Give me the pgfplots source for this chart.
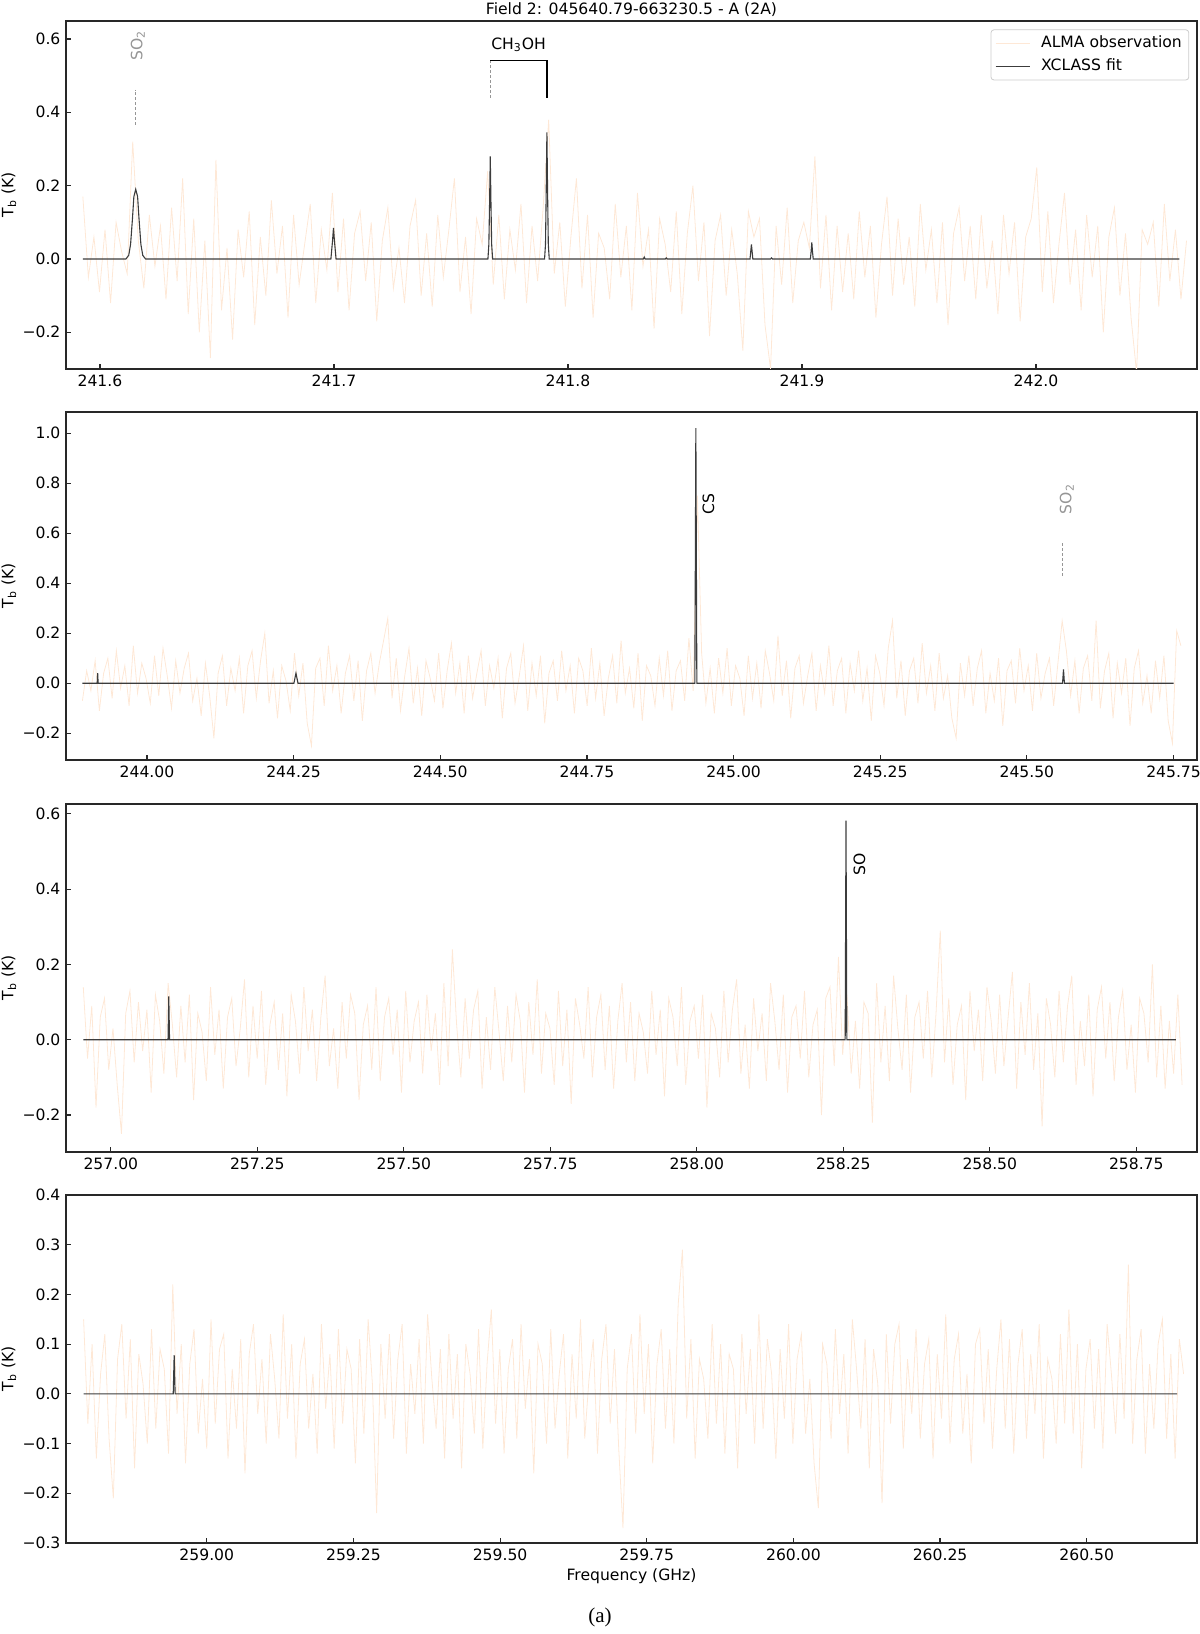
\documentclass[border=0pt]{standalone}
\usepackage{fontspec}
\setmainfont{DejaVu Sans}
\newfontfamily\capfont{Liberation Serif}
\usepackage{pgfplots}
\usepackage{pgfplotstable}
\pgfplotsset{compat=1.18}

\definecolor{obs}{RGB}{254,232,214}
\definecolor{fitc}{RGB}{60,60,60}
\definecolor{frame}{RGB}{40,40,40}
\definecolor{lbl}{RGB}{150,150,150}
\newcommand\fs{\fontsize{7.8}{9.4}\selectfont}

% observed spectra, one value per channel (channels evenly spaced)
\pgfplotstableread[row sep=\\]{T\\
0.17\\ -0.05\\ 0.06\\ -0.09\\ 0.08\\ -0.12\\ 0.10\\ 0.02\\ -0.04\\ 0.32\\ 0.05\\ -0.08\\ 0.12\\ -0.02\\ 0.09\\ -0.11\\ 0.14\\ -0.06\\ 0.22\\ -0.15\\
0.11\\ -0.20\\ 0.05\\ -0.27\\ 0.27\\ -0.14\\ 0.03\\ -0.22\\ 0.08\\ -0.05\\ 0.13\\ -0.18\\ 0.06\\ -0.10\\ 0.16\\ -0.04\\ 0.09\\ -0.16\\ 0.12\\ -0.07\\
0.04\\ 0.15\\ -0.12\\ 0.08\\ -0.03\\ 0.18\\ -0.09\\ 0.11\\ -0.14\\ 0.07\\ 0.13\\ -0.06\\ 0.10\\ -0.17\\ 0.05\\ 0.14\\ -0.08\\ 0.03\\ -0.12\\ 0.09\\
0.16\\ -0.10\\ 0.07\\ -0.13\\ 0.12\\ -0.05\\ 0.08\\ 0.22\\ -0.09\\ 0.06\\ -0.15\\ 0.11\\ 0.04\\ 0.24\\ -0.07\\ 0.12\\ -0.11\\ 0.08\\ -0.03\\ 0.15\\
-0.12\\ 0.09\\ -0.06\\ 0.14\\ 0.38\\ -0.04\\ 0.10\\ -0.13\\ 0.06\\ 0.22\\ -0.08\\ 0.12\\ -0.16\\ 0.07\\ 0.03\\ -0.11\\ 0.15\\ -0.05\\ 0.09\\ -0.14\\
0.18\\ -0.02\\ 0.08\\ -0.19\\ 0.11\\ 0.04\\ -0.09\\ 0.13\\ -0.15\\ 0.07\\ 0.20\\ -0.06\\ 0.10\\ -0.21\\ 0.05\\ 0.12\\ -0.10\\ 0.08\\ -0.04\\ -0.25\\
0.13\\ 0.06\\ 0.11\\ -0.18\\ -0.30\\ 0.09\\ -0.07\\ 0.14\\ -0.12\\ 0.05\\ 0.10\\ 0.03\\ 0.28\\ -0.08\\ 0.12\\ -0.14\\ 0.09\\ -0.09\\ 0.07\\ -0.11\\
0.13\\ -0.05\\ 0.09\\ -0.16\\ 0.04\\ 0.17\\ -0.10\\ 0.11\\ -0.07\\ 0.06\\ -0.13\\ 0.15\\ -0.03\\ 0.08\\ -0.12\\ 0.10\\ -0.18\\ 0.07\\ 0.14\\ -0.06\\
0.09\\ -0.11\\ 0.12\\ -0.08\\ 0.05\\ -0.15\\ 0.12\\ -0.04\\ 0.10\\ -0.17\\ 0.06\\ 0.11\\ 0.25\\ -0.09\\ 0.13\\ -0.12\\ 0.04\\ 0.18\\ -0.07\\ 0.08\\
-0.14\\ 0.12\\ -0.05\\ 0.09\\ -0.20\\ 0.06\\ 0.14\\ -0.10\\ 0.07\\ -0.16\\ -0.31\\ 0.08\\ 0.04\\ 0.10\\ -0.13\\ 0.15\\ -0.06\\ 0.08\\ -0.11\\ 0.05\\
}\obsA

\pgfplotstableread[row sep=\\]{T\\
-0.07\\ 0.05\\ -0.03\\ 0.09\\ -0.11\\ 0.04\\ 0.10\\ -0.06\\ 0.13\\ -0.02\\ 0.07\\ -0.09\\ 0.15\\ -0.04\\ 0.08\\ 0.02\\ -0.08\\ 0.11\\ -0.05\\ 0.14\\
0.03\\ -0.10\\ 0.09\\ -0.04\\ 0.06\\ 0.12\\ -0.07\\ 0.02\\ -0.13\\ 0.08\\ -0.05\\ -0.22\\ 0.04\\ 0.11\\ -0.09\\ 0.06\\ -0.03\\ 0.10\\ -0.12\\ 0.07\\
0.13\\ -0.06\\ 0.09\\ 0.20\\ -0.08\\ 0.05\\ -0.14\\ 0.07\\ 0.01\\ -0.11\\ 0.12\\ -0.05\\ 0.08\\ -0.16\\ -0.25\\ 0.06\\ 0.10\\ -0.09\\ 0.15\\ -0.03\\
0.07\\ -0.12\\ 0.04\\ 0.11\\ -0.07\\ 0.09\\ -0.15\\ 0.05\\ 0.12\\ -0.04\\ 0.08\\ 0.17\\ 0.26\\ -0.06\\ 0.10\\ -0.11\\ 0.03\\ 0.14\\ -0.08\\ 0.06\\
-0.13\\ 0.09\\ 0.02\\ -0.07\\ 0.12\\ -0.10\\ 0.05\\ 0.16\\ -0.04\\ 0.08\\ -0.12\\ 0.11\\ -0.06\\ 0.04\\ 0.13\\ -0.09\\ 0.07\\ -0.02\\ 0.10\\ -0.14\\
0.06\\ 0.12\\ -0.08\\ 0.03\\ 0.15\\ -0.11\\ 0.08\\ -0.05\\ 0.11\\ -0.16\\ 0.04\\ 0.09\\ -0.07\\ 0.13\\ -0.03\\ 0.07\\ -0.12\\ 0.10\\ 0.05\\ -0.09\\
0.14\\ -0.06\\ 0.08\\ -0.13\\ 0.02\\ 0.11\\ -0.08\\ 0.17\\ -0.04\\ 0.06\\ -0.10\\ 0.12\\ -0.15\\ 0.07\\ 0.03\\ -0.09\\ 0.10\\ -0.05\\ 0.13\\ -0.11\\
0.05\\ 0.09\\ -0.07\\ 0.18\\ -0.03\\ 0.75\\ 0.12\\ -0.08\\ 0.06\\ -0.12\\ 0.10\\ -0.04\\ 0.14\\ -0.09\\ 0.07\\ 0.02\\ -0.13\\ 0.11\\ -0.06\\ 0.08\\
-0.10\\ 0.13\\ 0.04\\ -0.07\\ 0.19\\ -0.05\\ 0.09\\ -0.14\\ 0.06\\ 0.11\\ -0.08\\ 0.03\\ 0.12\\ -0.11\\ 0.07\\ -0.04\\ 0.15\\ -0.09\\ 0.05\\ 0.10\\
-0.12\\ 0.08\\ -0.03\\ 0.13\\ -0.07\\ 0.06\\ -0.15\\ 0.11\\ 0.04\\ -0.09\\ 0.14\\ 0.25\\ -0.06\\ 0.09\\ -0.13\\ 0.05\\ 0.10\\ -0.08\\ 0.16\\ -0.04\\
0.07\\ -0.11\\ 0.12\\ -0.06\\ 0.03\\ -0.14\\ -0.22\\ 0.08\\ -0.05\\ 0.11\\ -0.09\\ 0.06\\ 0.13\\ -0.12\\ 0.04\\ -0.07\\ 0.10\\ -0.17\\ 0.05\\ 0.09\\
-0.08\\ 0.14\\ -0.03\\ 0.07\\ -0.11\\ 0.12\\ -0.06\\ 0.04\\ 0.10\\ -0.09\\ 0.08\\ 0.25\\ 0.13\\ -0.05\\ 0.09\\ -0.12\\ 0.06\\ 0.11\\ -0.07\\ 0.25\\
-0.10\\ 0.05\\ 0.12\\ -0.14\\ 0.08\\ -0.04\\ 0.10\\ -0.17\\ 0.06\\ 0.13\\ -0.08\\ 0.03\\ -0.12\\ 0.09\\ -0.06\\ 0.11\\ -0.15\\ -0.24\\ 0.21\\ 0.15\\
}\obsB

\pgfplotstableread[row sep=\\]{T\\
0.14\\ -0.05\\ 0.09\\ -0.18\\ 0.06\\ 0.11\\ -0.08\\ 0.03\\ -0.12\\ -0.25\\ 0.07\\ 0.13\\ -0.06\\ 0.10\\ -0.03\\ 0.08\\ -0.14\\ 0.12\\ 0.05\\ -0.09\\
0.15\\ 0.04\\ -0.10\\ 0.09\\ -0.06\\ 0.12\\ -0.16\\ 0.07\\ 0.02\\ -0.11\\ 0.14\\ -0.04\\ 0.08\\ -0.13\\ 0.06\\ 0.11\\ -0.07\\ 0.03\\ 0.16\\ -0.10\\
0.09\\ -0.05\\ 0.13\\ -0.12\\ 0.04\\ 0.10\\ -0.08\\ 0.07\\ -0.15\\ 0.12\\ 0.05\\ -0.09\\ 0.14\\ -0.03\\ 0.08\\ -0.11\\ 0.06\\ 0.17\\ -0.07\\ 0.03\\
-0.13\\ 0.10\\ -0.05\\ 0.12\\ 0.07\\ -0.16\\ 0.04\\ 0.09\\ -0.08\\ 0.14\\ -0.11\\ 0.06\\ 0.11\\ -0.04\\ 0.08\\ -0.14\\ 0.13\\ -0.06\\ 0.05\\ 0.10\\
-0.09\\ 0.12\\ -0.03\\ 0.07\\ -0.12\\ 0.15\\ -0.07\\ 0.24\\ 0.04\\ -0.10\\ 0.11\\ -0.05\\ 0.08\\ 0.13\\ -0.13\\ 0.06\\ -0.08\\ 0.14\\ 0.02\\ -0.11\\
0.09\\ -0.06\\ 0.12\\ 0.05\\ -0.14\\ 0.10\\ -0.04\\ 0.16\\ -0.09\\ 0.07\\ 0.03\\ -0.12\\ 0.13\\ -0.07\\ 0.08\\ -0.17\\ 0.11\\ 0.04\\ -0.05\\ 0.14\\
-0.10\\ 0.06\\ 0.12\\ -0.08\\ 0.09\\ -0.13\\ 0.05\\ 0.15\\ -0.06\\ 0.10\\ -0.11\\ 0.07\\ 0.02\\ -0.09\\ 0.13\\ -0.04\\ 0.08\\ -0.15\\ 0.11\\ 0.06\\
-0.07\\ 0.14\\ -0.12\\ 0.05\\ 0.09\\ -0.05\\ 0.12\\ -0.18\\ 0.07\\ 0.03\\ -0.10\\ 0.13\\ -0.06\\ 0.08\\ 0.16\\ -0.09\\ 0.04\\ -0.13\\ 0.11\\ -0.03\\
0.07\\ -0.11\\ 0.15\\ 0.05\\ -0.08\\ 0.12\\ -0.14\\ 0.06\\ 0.09\\ -0.05\\ 0.13\\ -0.10\\ 0.04\\ 0.08\\ -0.20\\ 0.11\\ 0.14\\ -0.07\\ 0.22\\ -0.04\\
0.12\\ -0.09\\ 0.05\\ -0.13\\ 0.10\\ 0.07\\ -0.22\\ 0.15\\ -0.06\\ 0.09\\ -0.11\\ 0.17\\ 0.03\\ -0.08\\ 0.12\\ -0.14\\ 0.06\\ 0.10\\ -0.05\\ 0.13\\
-0.10\\ 0.07\\ 0.29\\ -0.06\\ 0.11\\ -0.12\\ 0.04\\ 0.09\\ -0.16\\ 0.13\\ -0.03\\ 0.08\\ -0.11\\ 0.14\\ 0.05\\ -0.09\\ 0.12\\ -0.07\\ 0.06\\ 0.18\\
-0.13\\ 0.10\\ -0.04\\ 0.15\\ -0.08\\ 0.07\\ -0.23\\ 0.11\\ 0.04\\ -0.10\\ 0.13\\ -0.06\\ 0.09\\ 0.17\\ -0.12\\ 0.05\\ -0.07\\ 0.12\\ -0.15\\ 0.08\\
0.14\\ -0.05\\ 0.10\\ -0.11\\ 0.06\\ 0.13\\ -0.08\\ 0.04\\ -0.14\\ 0.11\\ 0.07\\ -0.06\\ 0.20\\ -0.10\\ 0.09\\ -0.13\\ 0.05\\ -0.09\\ 0.12\\ -0.12\\
}\obsC

\pgfplotstableread[row sep=\\]{T\\
0.15\\ -0.06\\ 0.10\\ -0.13\\ 0.04\\ 0.12\\ -0.09\\ -0.21\\ 0.07\\ 0.14\\ -0.05\\ 0.11\\ -0.15\\ 0.08\\ 0.02\\ -0.10\\ 0.13\\ -0.07\\ 0.09\\ 0.05\\
-0.12\\ 0.22\\ -0.04\\ 0.10\\ -0.14\\ 0.06\\ 0.13\\ -0.08\\ 0.03\\ -0.11\\ 0.15\\ -0.06\\ 0.09\\ 0.12\\ -0.13\\ 0.05\\ -0.07\\ 0.11\\ -0.16\\ 0.08\\
0.14\\ -0.04\\ 0.07\\ -0.10\\ 0.12\\ 0.03\\ -0.09\\ 0.16\\ -0.05\\ 0.10\\ -0.13\\ 0.06\\ 0.11\\ -0.07\\ 0.04\\ -0.12\\ 0.14\\ -0.03\\ 0.08\\ -0.11\\
0.13\\ -0.06\\ 0.09\\ 0.05\\ -0.14\\ 0.11\\ -0.08\\ 0.15\\ 0.02\\ -0.24\\ 0.10\\ -0.05\\ 0.12\\ -0.09\\ 0.07\\ 0.14\\ -0.12\\ 0.06\\ -0.04\\ 0.11\\
-0.10\\ 0.16\\ 0.03\\ -0.07\\ 0.09\\ -0.13\\ 0.12\\ -0.05\\ 0.08\\ -0.15\\ 0.10\\ 0.04\\ -0.08\\ 0.13\\ -0.11\\ 0.06\\ 0.17\\ -0.06\\ 0.09\\ -0.12\\
0.05\\ 0.11\\ -0.09\\ 0.14\\ -0.03\\ 0.07\\ -0.16\\ 0.10\\ 0.06\\ -0.10\\ 0.13\\ -0.07\\ 0.04\\ 0.12\\ -0.13\\ 0.08\\ -0.05\\ 0.15\\ -0.09\\ 0.03\\
0.11\\ -0.12\\ 0.07\\ 0.14\\ -0.06\\ 0.09\\ -0.11\\ -0.27\\ 0.05\\ 0.12\\ -0.08\\ 0.16\\ -0.04\\ 0.10\\ -0.14\\ 0.06\\ 0.13\\ -0.07\\ 0.09\\ -0.10\\
0.18\\ 0.29\\ -0.05\\ 0.11\\ -0.13\\ 0.07\\ 0.03\\ -0.09\\ 0.14\\ -0.06\\ 0.10\\ -0.12\\ 0.08\\ 0.05\\ -0.15\\ 0.12\\ -0.04\\ 0.09\\ -0.10\\ 0.16\\
-0.07\\ 0.11\\ 0.04\\ -0.13\\ 0.09\\ -0.05\\ 0.14\\ -0.10\\ 0.07\\ 0.12\\ -0.08\\ 0.03\\ -0.14\\ -0.23\\ 0.10\\ 0.06\\ -0.09\\ 0.13\\ -0.04\\ 0.08\\
-0.12\\ 0.15\\ 0.05\\ -0.07\\ 0.11\\ -0.15\\ 0.09\\ 0.02\\ -0.22\\ 0.12\\ -0.06\\ 0.10\\ 0.14\\ -0.11\\ 0.07\\ -0.04\\ 0.13\\ -0.09\\ 0.06\\ 0.11\\
-0.13\\ 0.08\\ -0.05\\ 0.16\\ -0.10\\ 0.07\\ 0.12\\ -0.08\\ 0.04\\ -0.14\\ 0.10\\ 0.13\\ -0.06\\ 0.09\\ -0.11\\ 0.05\\ 0.15\\ -0.07\\ 0.11\\ -0.12\\
0.06\\ 0.13\\ -0.09\\ 0.08\\ -0.04\\ 0.14\\ -0.13\\ 0.07\\ 0.03\\ -0.10\\ 0.12\\ -0.06\\ 0.17\\ -0.08\\ 0.10\\ -0.15\\ 0.05\\ 0.11\\ -0.07\\ 0.09\\
-0.11\\ 0.14\\ 0.04\\ -0.08\\ 0.12\\ -0.05\\ 0.26\\ -0.10\\ 0.07\\ 0.13\\ -0.12\\ 0.06\\ -0.07\\ 0.10\\ 0.15\\ -0.09\\ 0.08\\ -0.13\\ 0.11\\ 0.04\\
}\obsD

\pgfplotsset{
  spec/.style={
    scale only axis, width=565.5pt, height=174pt, anchor=south west,
    axis line style={frame, line width=0.7pt},
    tick align=inside, xtick pos=bottom, ytick pos=left,
    major tick length=2.6pt,
    every tick/.style={frame, line width=0.6pt},
    tick label style={font=\fs},
    label style={font=\fs},
    ylabel={T\textsubscript{b} (K)},
    every axis y label/.style={at={(axis description cs:-0.0504,0.5)}, rotate=90, anchor=center},
  },
  obsline/.style={obs, line width=0.4pt},
  fitline/.style={fitc, line width=0.55pt},
  mark line/.style={lbl, line width=0.5pt, dash pattern=on 1.5pt off 1pt},
}

\begin{document}
\fs
\begin{tikzpicture}
\path[use as bounding box] (0,0) rectangle (600pt,817pt);

% panel 1
\begin{axis}[spec, at={(33pt,632.5pt)},
  xmin=241.5855, xmax=242.0688, ymin=-0.300, ymax=0.649,
  xtick={241.6,241.7,241.8,241.9,242.0},
  xticklabels={241.6,241.7,241.8,241.9,242.0},
  ytick={-0.2,0,0.2,0.4,0.6},
  yticklabels={−0.2,0.0,0.2,0.4,0.6},
  legend style={at={(axis description cs:1,1)}, anchor=north east, xshift=-3.9pt, yshift=-4.2pt,
    draw=black!20, rounded corners=1.5pt, font=\fs, inner xsep=2pt, inner ysep=1.5pt,
    row sep=1.3pt, column sep=4pt, nodes={inner sep=1.5pt, text height=5.8pt, text depth=1.6pt}},
  legend cell align=left,
  legend image code/.code={\draw[#1] (0pt,0pt) -- (17pt,0pt);},
]
\addplot[obsline] table[x expr=241.5927+\coordindex*0.00237, y=T] {\obsA};
\addplot[fitline] coordinates {
  (241.5927,0) (241.6111,0) (241.6123,0.01) (241.6131,0.04) (241.6139,0.11) (241.6145,0.17)
  (241.6153,0.19) (241.6161,0.17) (241.6167,0.11) (241.6175,0.04) (241.6183,0.01) (241.6195,0)
  (241.6987,0) (241.6994,0.05) (241.6998,0.085) (241.7002,0.05) (241.7009,0)
  (241.7658,0) (241.7662,0.04) (241.7665,0.15) (241.7668,0.28) (241.7671,0.15) (241.7674,0.04) (241.7678,0)
  (241.7900,0) (241.7904,0.04) (241.7907,0.18) (241.7910,0.345) (241.7913,0.18) (241.7916,0.04) (241.7920,0)
  (241.8322,0) (241.8326,0.005) (241.8330,0)
  (241.8416,0) (241.8420,0.003) (241.8424,0)
  (241.8778,0) (241.8781,0.02) (241.8784,0.04) (241.8787,0.02) (241.8790,0)
  (241.8866,0) (241.8870,0.003) (241.8874,0)
  (241.9036,0) (241.9039,0.02) (241.9042,0.045) (241.9045,0.02) (241.9048,0)
  (242.0613,0)
};
\legend{ALMA observation, XCLASS fit}
\addplot[mark line, forget plot] coordinates {(241.6150,0.366) (241.6150,0.462)};
\addplot[mark line, forget plot] coordinates {(241.7667,0.440) (241.7667,0.541)};
\addplot[black, line width=0.6pt, forget plot] coordinates {(241.7667,0.541) (241.7910,0.541) (241.7910,0.439)};
\node[rotate=90, text=lbl] at (axis cs:241.6162,0.582) {SO\textsubscript{2}};
\node at (axis cs:241.7789,0.584) {CH\textsubscript{3}OH};
\end{axis}

% panel 2
\begin{axis}[spec, at={(33pt,437pt)},
  xmin=243.862, xmax=245.790, ymin=-0.307, ymax=1.085,
  xtick={244,244.25,244.5,244.75,245,245.25,245.5,245.75},
  xticklabels={244.00,244.25,244.50,244.75,245.00,245.25,245.50,245.75},
  ytick={-0.2,0,0.2,0.4,0.6,0.8,1.0},
  yticklabels={−0.2,0.0,0.2,0.4,0.6,0.8,1.0},
]
\addplot[obsline] table[x expr=243.890+\coordindex*0.00723, y=T] {\obsB};
\addplot[fitline] coordinates {
  (243.890,0) (243.9152,0) (243.9160,0.04) (243.9168,0)
  (244.2505,0) (244.2540,0.04) (244.2575,0)
  (244.9340,0) (244.9357,1.02) (244.9374,0)
  (245.5608,0) (245.5624,0.055) (245.5640,0)
  (245.750,0)
};
\addplot[mark line] coordinates {(245.5607,0.43) (245.5607,0.57)};
\node[rotate=90, text=lbl] at (axis cs:245.568,0.737) {SO\textsubscript{2}};
\node[rotate=90] at (axis cs:244.957,0.717) {CS};
\end{axis}

% panel 3
\begin{axis}[spec, at={(33pt,241pt)},
  xmin=256.9235, xmax=258.8536, ymin=-0.298, ymax=0.626,
  xtick={257,257.25,257.5,257.75,258,258.25,258.5,258.75},
  xticklabels={257.00,257.25,257.50,257.75,258.00,258.25,258.50,258.75},
  ytick={-0.2,0,0.2,0.4,0.6},
  yticklabels={−0.2,0.0,0.2,0.4,0.6},
]
\addplot[obsline] table[x expr=256.953+\coordindex*0.00724, y=T] {\obsC};
\addplot[fitline] coordinates {
  (256.953,0) (257.0976,0) (257.0989,0.115) (257.1002,0)
  (258.2532,0) (258.2546,0.582) (258.2560,0)
  (258.8177,0)
};
\node[rotate=90] at (axis cs:258.2776,0.466) {SO};
\end{axis}

% panel 4
\begin{axis}[spec, at={(33pt,45.5pt)},
  xmin=258.760, xmax=260.688, ymin=-0.3, ymax=0.4,
  xtick={259,259.25,259.5,259.75,260,260.25,260.5},
  xticklabels={259.00,259.25,259.50,259.75,260.00,260.25,260.50},
  ytick={-0.3,-0.2,-0.1,0,0.1,0.2,0.3,0.4},
  yticklabels={−0.3,−0.2,−0.1,0.0,0.1,0.2,0.3,0.4},
  xlabel={Frequency (GHz)},
  every axis x label/.style={at={(axis description cs:0.5,-0.0968)}, anchor=center},
]
\addplot[obsline] table[x expr=258.790+\coordindex*0.00724, y=T] {\obsD};
\addplot[fitline] coordinates {
  (258.790,0) (258.9428,0) (258.9444,0.078) (258.9460,0)
  (260.654,0)
};
\end{axis}

\node[anchor=base] at (315.75pt,809.8pt) {Field 2: 045640.79-663230.5 - A (2A)};
\node[font=\capfont\fontsize{10.5}{12}\selectfont, anchor=center] at (300pt,8.5pt) {(a)};
\end{tikzpicture}
\end{document}
